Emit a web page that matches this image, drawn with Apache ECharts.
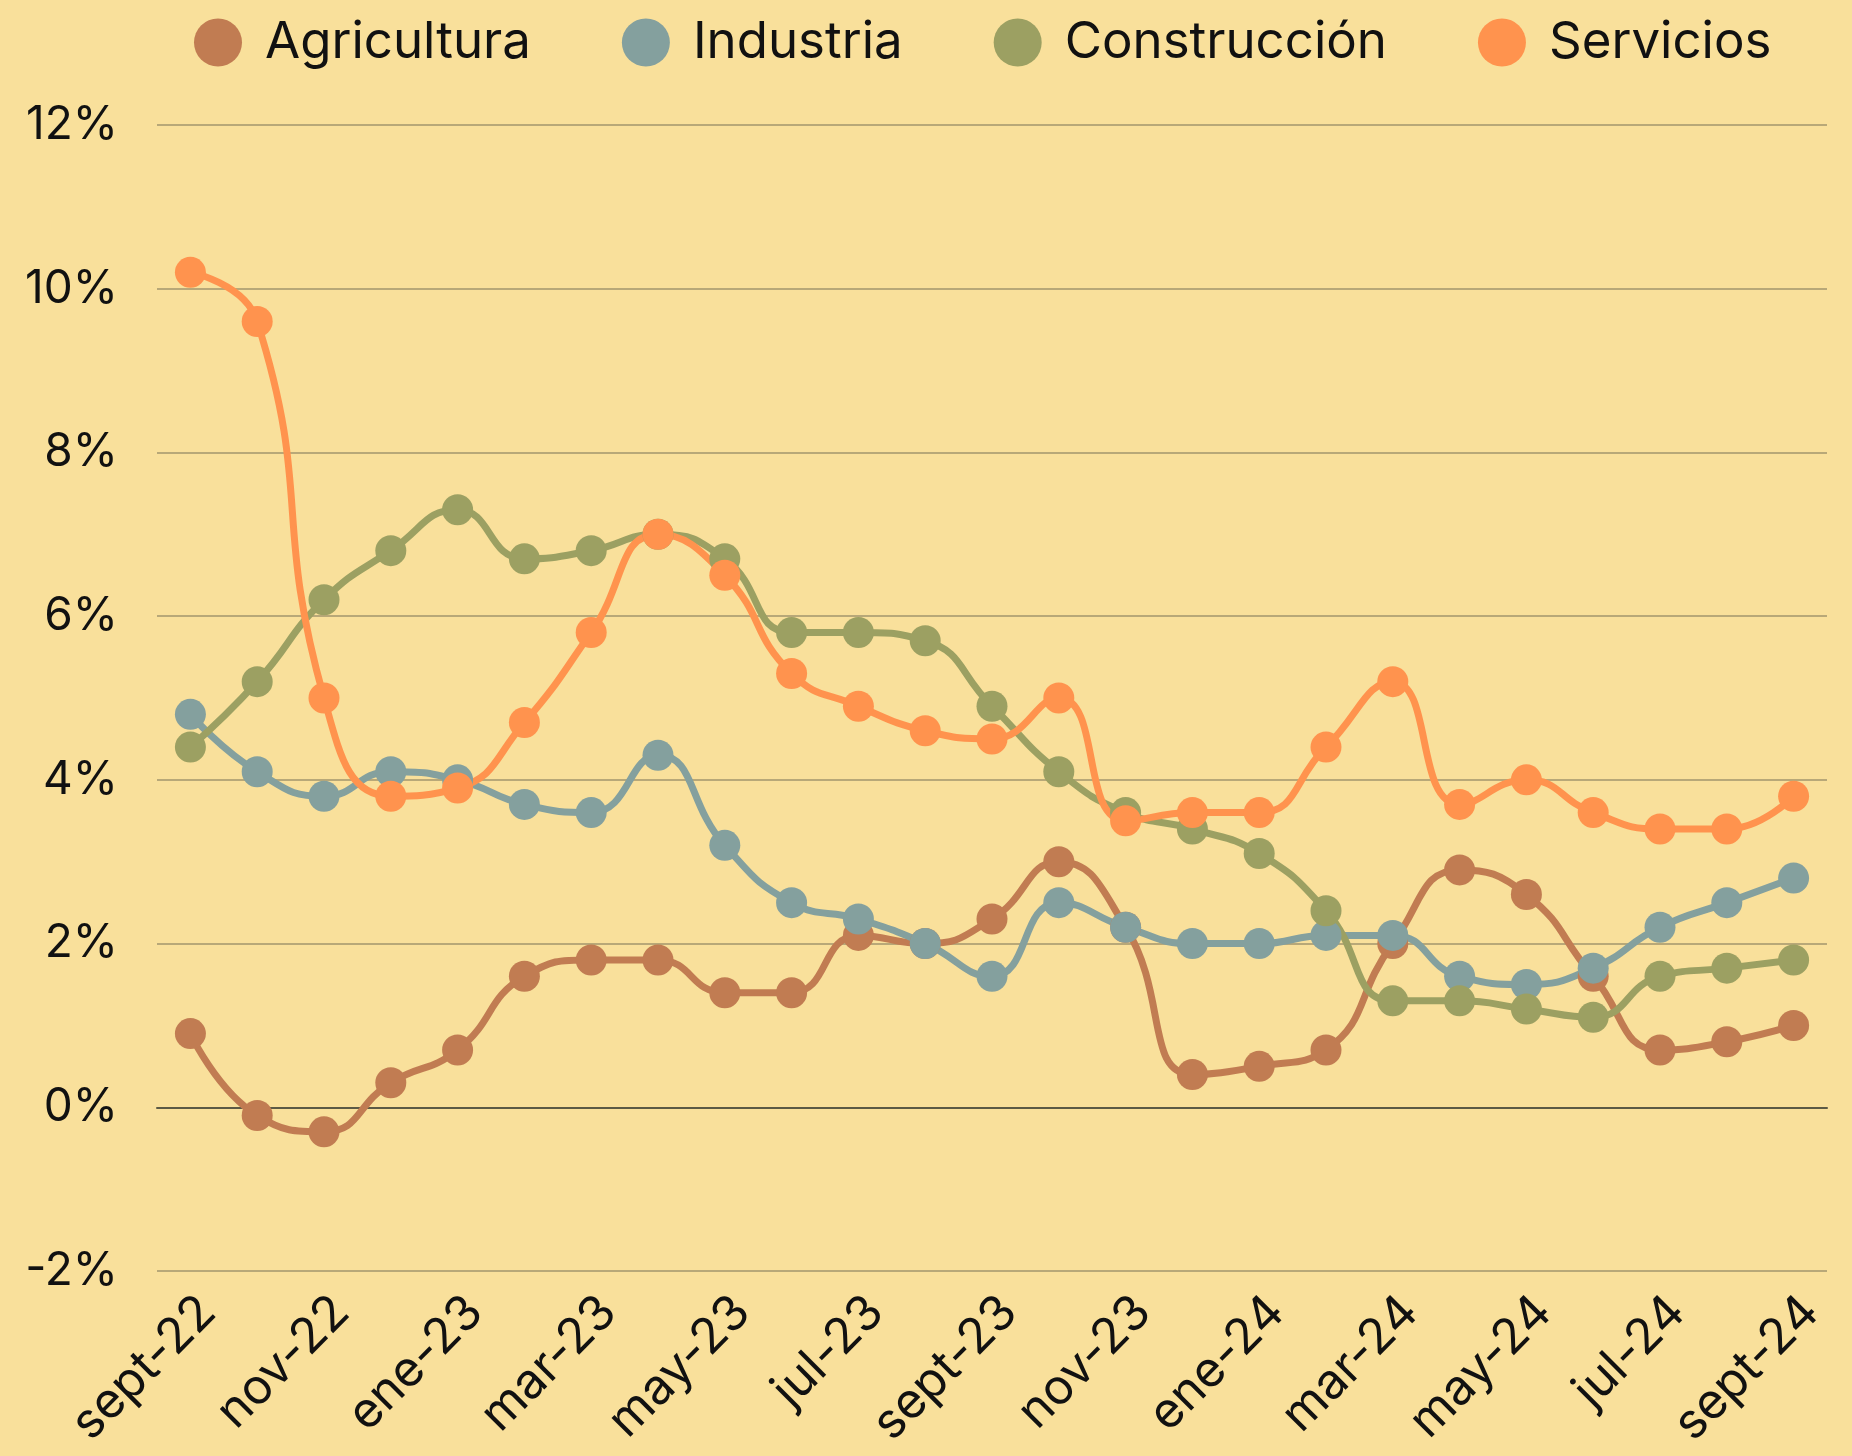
<!DOCTYPE html>
<html>
<head>
<meta charset="utf-8">
<script src="https://cdn.jsdelivr.net/npm/echarts@6/dist/echarts.min.js"></script>
<style>
  html, body { margin: 0; padding: 0; background: #f9e09b; }
  #chart { width: 1852px; height: 1456px; }
</style>
</head>
<body>
<div id="chart"></div>
<script>
const months = ['sept-22', 'oct-22', 'nov-22', 'dic-22', 'ene-23', 'feb-23', 'mar-23', 'abr-23', 'may-23',
  'jun-23', 'jul-23', 'ago-23', 'sept-23', 'oct-23', 'nov-23', 'dic-23', 'ene-24', 'feb-24', 'mar-24',
  'abr-24', 'may-24', 'jun-24', 'jul-24', 'ago-24', 'sept-24']
const agricultura = [0.9, -0.1, -0.3, 0.3, 0.7, 1.6, 1.8, 1.8, 1.4, 1.4, 2.1, 2.0, 2.3, 3.0, 2.2, 0.4, 0.5, 0.7, 2.0, 2.9, 2.6, 1.6, 0.7, 0.8, 1.0]
const industria = [4.8, 4.1, 3.8, 4.1, 4.0, 3.7, 3.6, 4.3, 3.2, 2.5, 2.3, 2.0, 1.6, 2.5, 2.2, 2.0, 2.0, 2.1, 2.1, 1.6, 1.5, 1.7, 2.2, 2.5, 2.8]
const construccion = [4.4, 5.2, 6.2, 6.8, 7.3, 6.7, 6.8, 7.0, 6.7, 5.8, 5.8, 5.7, 4.9, 4.1, 3.6, 3.4, 3.1, 2.4, 1.3, 1.3, 1.2, 1.1, 1.6, 1.7, 1.8]
const servicios = [10.2, 9.6, 5.0, 3.8, 3.9, 4.7, 5.8, 7.0, 6.5, 5.3, 4.9, 4.6, 4.5, 5.0, 3.5, 3.6, 3.6, 4.4, 5.2, 3.7, 4.0, 3.6, 3.4, 3.4, 3.8]

const font = 'Inter'

function line(name, data, color) {
  return {
    name: name,
    type: 'line',
    data: data,
    smooth: 0.5,
    symbol: 'circle',
    symbolSize: 31,
    lineStyle: { width: 7, color: color },
    itemStyle: { color: color }
  }
}

const chart = echarts.init(document.getElementById('chart'))
chart.setOption({
  backgroundColor: '#f9e09b',
  animation: false,
  textStyle: { fontFamily: font },
  legend: {
    left: 189,
    top: 12,
    icon: 'circle',
    itemWidth: 48,
    itemHeight: 48,
    itemGap: 91,
    textStyle: { fontFamily: font, fontSize: 51, color: '#111', padding: [0, 0, 0, 18] }
  },
  grid: {
    left: 157,
    right: 25,
    top: 125,
    bottom: 1456 - 1271
  },
  xAxis: {
    type: 'category',
    data: months,
    boundaryGap: true,
    axisLine: { show: true, onZero: true, lineStyle: { color: '#5c5a45', width: 2 } },
    axisTick: { show: false },
    axisLabel: { interval: 1, rotate: 45, margin: 16, verticalAlign: 'top', fontSize: 49, color: '#111', fontFamily: font }
  },
  yAxis: {
    type: 'value',
    min: -2,
    max: 12,
    interval: 2,
    axisLine: { show: false },
    axisTick: { show: false },
    splitLine: { lineStyle: { color: '#b8a878', width: 2 } },
    axisLabel: { formatter: '{value}%', margin: 39, fontSize: 46, color: '#111', fontFamily: font }
  },
  series: [
    line('Agricultura', agricultura, '#c17c52'),
    line('Industria', industria, '#84a09e'),
    line('Construcción', construccion, '#9ca062'),
    line('Servicios', servicios, '#ff934e')
  ]
})
</script>
</body>
</html>
